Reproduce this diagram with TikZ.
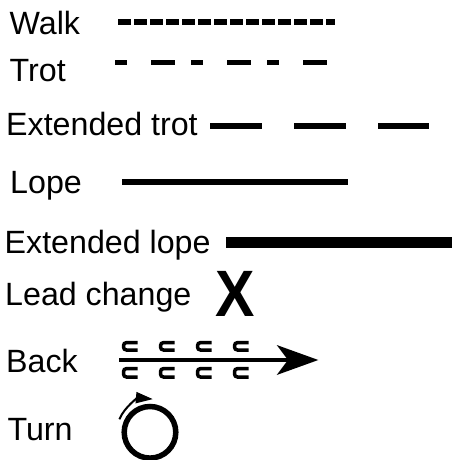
\documentclass[tikz,border=0pt]{standalone}
\usepackage{fontspec}
\setmainfont{Liberation Sans}
\usetikzlibrary{arrows.meta,calc}
\begin{document}
\begin{tikzpicture}[x=1pt,y=-1pt,
  lbl/.style={anchor=base west,inner sep=0pt,font=\fontsize{32.2}{38}\selectfont},
  walkline/.style={line width=5.8pt,dash pattern=on 12.3pt off 3.7pt},
  trotline/.style={line width=5.2pt,dash pattern=on 11.7pt off 24.3pt on 24pt off 16pt},
  extrotline/.style={line width=5.8pt,dash pattern=on 51.5pt off 32.5pt},
  lopeline/.style={line width=6pt},
  exlopeline/.style={line width=11.5pt},
  cupsym/.style={line width=3.5pt,rounded corners=3pt},
  turnring/.style={line width=5.5pt}]
\useasboundingbox (0,0) rectangle (452,460);
% labels
\node[lbl] (walk) at (9.5,35) {Walk};
\node[lbl] (trot) at (9.5,81.7) {Trot};
\node[lbl] (extrot) at (6,135) {Extended trot};
\node[lbl] (lope) at (10,193.3) {Lope};
\node[lbl] (exlope) at (4.5,253) {Extended lope};
\node[lbl] (lead) at (5,305) {Lead change};
\node[lbl] (back) at (6,372.7) {Back};
\node[lbl] (turn) at (7.4,440.7) {Turn};
% symbols
\draw[walkline] (118.3,21.7) -- (335,21.7);
\draw[trotline] (115,62.7) -- (327,62.7);
\draw[extrotline] (210,125.7) -- (429,125.7);
\draw[lopeline] (122,182) -- (348,182);
\draw[exlopeline] (226,242.7) -- (452,242.7);
\node[anchor=base west,inner sep=0pt,font=\fontsize{65.6}{70}\selectfont\bfseries] (x) at (215.5,316.7) {\scalebox{0.9}[1]{X}};
% back
\draw[line width=4.8pt] (119.3,360) -- (290,360);
\fill (318.3,360) -- (276.7,345) -- (288,360) -- (276.7,375) -- cycle;
\foreach \cx in {129,166,203,240}{
  \draw[cupsym] (\cx+8.5,342.6) -- (\cx-5.5,342.6) -- (\cx-5.5,350) -- (\cx+8.5,350);
  \draw[cupsym] (\cx+8.5,368.6) -- (\cx-5.5,368.6) -- (\cx-5.5,377) -- (\cx+8.5,377);
}
% turn
\coordinate (tc) at (150,432.3);
\draw[turnring] (tc) circle[radius=25.8];
\draw[line width=2pt,-{Triangle[length=17pt,width=11pt]}] ($(tc)+(-157:33.3)$) arc[start angle=-157,end angle=-85,radius=33.3];
\end{tikzpicture}
\end{document}
